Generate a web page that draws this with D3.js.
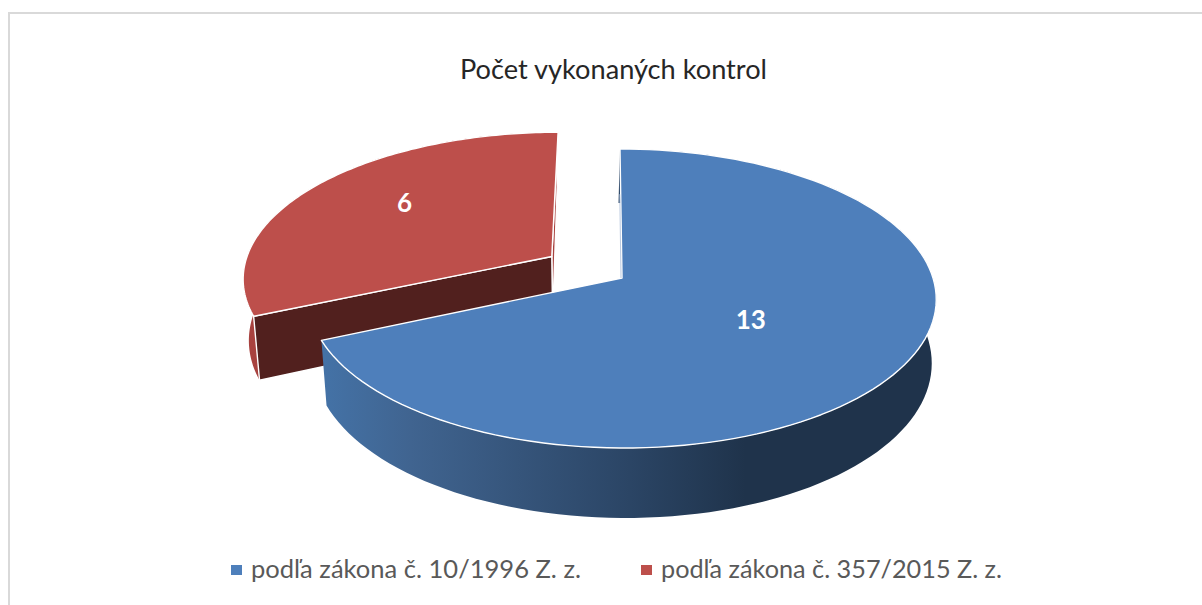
<!DOCTYPE html>
<html><head><meta charset="utf-8">
<script src="https://cdn.jsdelivr.net/npm/d3@7"></script>
<style>html,body{margin:0;padding:0;background:#fff}svg{display:block}text{font-family:Lato,"Open Sans",sans-serif}</style>
</head><body><svg id="c" width="1202" height="605"></svg>
<script>
const title = "Počet vykonaných kontrol";
const categories = ["podľa zákona č. 10/1996 Z. z.", "podľa zákona č. 357/2015 Z. z."];
const values = [13, 6];
const topColors = ["#4e7fbb", "#bd4f4b"];
const wallColors = ["#3f6a9c", "#a8423f"];
const cutColors = ["#a9bdd8", "#51201e"];

const svg = d3.select("#c");
const W = 1202, H = 605;
const cx = 622, cy = 278, Rx = 311, B = 146.7, persp = 0.137;
const explode = [0, 0.274];
const labelPos = [{r:0.475, da:0, dy:2}, {r:0.66, da:5, dy:1}];

// frame
svg.append("path").attr("d", `M9,${H}V13H${W}`).attr("fill","none").attr("stroke","#d9d9d9").attr("stroke-width",2);

// ground-plane perspective: X, Y on unit disc, z = 0 top, 1 bottom of the extrusion
function project(X, Y, z) {
  const d = 1 + persp * Y;
  return [cx + Rx * (1 - 0.015 * z) * X / d - 2 * Y - 1.5 * z * Y,
          cy - B * Y / d + z * (62 - 8 * Y)];
}
const pie = d3.pie().sort(null).startAngle(0).endAngle(2*Math.PI)(values);
const line = d3.line();
const defs = svg.append("defs");
const grad = defs.append("linearGradient").attr("id","wallBlue").attr("gradientUnits","userSpaceOnUse")
  .attr("x1",325).attr("x2",935).attr("y1",0).attr("y2",0);
[[0,"#4472a6"],[0.14,"#406490"],[0.5,"#2b4565"],[0.69,"#1f334b"],[1,"#1f334b"]]
  .forEach(s => grad.append("stop").attr("offset",s[0]).attr("stop-color",s[1]));

function slice(i) {
  const p = pie[i], mid = (p.startAngle + p.endAngle)/2;
  const ox = Math.sin(mid)*explode[i], oy = Math.cos(mid)*explode[i];
  const angs = d3.range(0,121).map(k => p.startAngle + (p.endAngle-p.startAngle)*k/120);
  const rim = z => angs.map(a => project(ox+Math.sin(a), oy+Math.cos(a), z));
  const apex = z => project(ox, oy, z);
  return {rim, apex, ox, oy, mid};
}
const white = g => g.attr("stroke","#fff").attr("stroke-width",1.4).attr("stroke-linejoin","round");

// red slice (behind)
const red = slice(1), blue = slice(0);
const rT = red.rim(0), rB = red.rim(1);
svg.append("path").attr("d", line(rT.concat(rB.slice().reverse()))+"Z").attr("fill",wallColors[1]);
svg.append("path").attr("d", line([red.apex(0), rT[120], rB[120], red.apex(1)])+"Z").attr("fill",wallColors[1]).call(white);
svg.append("path").attr("d", line([red.apex(0), rT[0], rB[0], red.apex(1)])+"Z").attr("fill",cutColors[1]).call(white);
svg.append("path").attr("d", line([red.apex(0)].concat(rT))+"Z").attr("fill",topColors[1]).call(white);

// blue slice (front)
const bT = blue.rim(0), bB = blue.rim(1);
svg.append("path").attr("d", line(bT.concat(bB.slice().reverse()))+"Z").attr("fill","url(#wallBlue)");
svg.append("path").attr("d", line([blue.apex(0)].concat(bT))+"Z").attr("fill",topColors[0]).call(white);
// thin glimpse of the blue slice's cut face
svg.append("path").attr("d", line([project(0,0.62,0), blue.apex(0)])).attr("transform","translate(-1,0)")
  .attr("fill","none").attr("stroke",cutColors[0]).attr("stroke-width",0.8);

// data labels
pie.forEach((p,i) => {
  const s = i ? red : blue, a = s.mid + labelPos[i].da*Math.PI/180, r = labelPos[i].r;
  const q = project(s.ox + r*Math.sin(a), s.oy + r*Math.cos(a), 0);
  svg.append("text").attr("x",q[0]).attr("y",q[1]+labelPos[i].dy).attr("dy","0.35em").attr("text-anchor","middle")
    .attr("fill","#fff").attr("font-weight",700).attr("font-size",26).text(p.value);
});

// title
svg.append("text").attr("x",613.5).attr("y",79).attr("text-anchor","middle").attr("fill","#262626")
  .attr("font-size",26).attr("textLength",307).attr("lengthAdjust","spacingAndGlyphs").text(title);

// legend
const legend = d3.scaleOrdinal().domain(categories).range([231,641]);
const legW = [330,341];
categories.forEach((c,i) => {
  svg.append("rect").attr("x",legend(c)).attr("y",565).attr("width",11).attr("height",10).attr("fill",topColors[i]);
  svg.append("text").attr("x",legend(c)+20).attr("y",578).attr("fill","#595959")
    .attr("font-size",25.5).attr("textLength",legW[i]).attr("lengthAdjust","spacingAndGlyphs").text(c);
});
</script></body></html>
